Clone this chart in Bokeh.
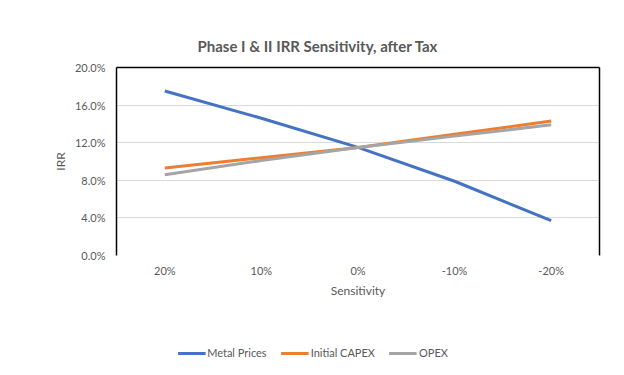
from bokeh.plotting import figure
from bokeh.layouts import column
from bokeh.models import (FactorRange, Range1d, NumeralTickFormatter, SingleIntervalTicker,
                          FixedTicker, LinearAxis, CategoricalAxis, Legend, LegendItem)
from bokeh.embed import file_html
from bokeh.resources import INLINE

categories = ["20%", "10%", "0%", "-10%", "-20%"]
metal_prices = [0.175, 0.146, 0.115, 0.079, 0.037]
initial_capex = [0.093, 0.104, 0.115, 0.129, 0.143]
opex = [0.086, 0.101, 0.115, 0.127, 0.139]
names = ["Metal Prices", "Initial CAPEX", "OPEX"]

FONT = "Lato"
TXT = "#595959"
colors = ["#4472C4", "#ED7D31", "#A5A5A5"]
series = [metal_prices, initial_capex, opex]

p = figure(width=624, height=330, output_backend="svg", toolbar_location=None,
           x_range=FactorRange(*categories, range_padding=0), y_range=Range1d(0, 0.20),
           min_border_left=116, min_border_right=25, min_border_top=67, min_border_bottom=75)

p.title.text = "Phase I & II IRR Sensitivity, after Tax"
p.title.text_font = FONT
p.title.text_font_size = "15px"
p.title.text_font_style = "bold"
p.title.text_color = TXT
p.title.align = "left"
p.title.offset = 81
p.title.standoff = 25

p.outline_line_color = None
p.xgrid.grid_line_color = None
p.ygrid.grid_line_color = "#d9d9d9"
p.ygrid.grid_line_width = 1
p.ygrid.ticker = SingleIntervalTicker(interval=0.04)

for s, c in zip(series, colors):
    p.line(categories, s, line_color=c, line_width=3)

ya = p.yaxis[0]
ya.ticker = SingleIntervalTicker(interval=0.04)
ya.formatter = NumeralTickFormatter(format="0.0%")
ya.axis_line_color = "black"
ya.axis_line_width = 1.5
ya.major_tick_line_color = None
ya.minor_tick_line_color = None
ya.major_tick_out = 0
ya.minor_tick_out = 0
ya.major_label_text_font = FONT
ya.major_label_text_font_size = "11px"
ya.major_label_text_color = TXT
ya.major_label_standoff = 11
ya.axis_label = "IRR"
ya.axis_label_text_font = FONT
ya.axis_label_text_font_size = "12px"
ya.axis_label_text_font_style = "normal"
ya.axis_label_text_color = TXT
ya.axis_label_standoff = 4

xa = p.xaxis[0]
xa.axis_line_color = None
xa.major_tick_line_color = None
xa.minor_tick_line_color = None
xa.major_tick_out = 0
xa.minor_tick_out = 0
xa.major_label_text_font = FONT
xa.major_label_text_font_size = "11px"
xa.major_label_text_color = TXT
xa.major_label_standoff = 8
xa.axis_label = "Sensitivity"
xa.axis_label_text_font = FONT
xa.axis_label_text_font_size = "12px"
xa.axis_label_text_font_style = "normal"
xa.axis_label_text_color = TXT
xa.axis_label_standoff = 3

top = CategoricalAxis(axis_line_color="black", axis_line_width=1.5,
                      major_tick_line_color=None, minor_tick_line_color=None,
                      major_tick_out=0, minor_tick_out=0,
                      major_label_text_color=None, major_label_text_font_size="1px",
                      major_label_standoff=0)
right = LinearAxis(ticker=FixedTicker(ticks=[]),
                   axis_line_color="black", axis_line_width=1.5,
                   major_tick_line_color=None, minor_tick_line_color=None,
                   major_tick_out=0, minor_tick_out=0)
p.add_layout(top, "above")
p.add_layout(right, "right")

# legend strip: same series drawn outside its visible range, only the legend shows
lg = figure(width=534, height=45, output_backend="svg", toolbar_location=None,
            x_range=FactorRange(*categories), y_range=Range1d(1, 2),
            x_axis_type=None, y_axis_type=None, min_border=0)
lg.outline_line_color = None
lg.grid.grid_line_color = None
lg_renderers = [lg.line(categories, s, line_color=c, line_width=3) for s, c in zip(series, colors)]
legend = Legend(items=[LegendItem(label=n, renderers=[r]) for n, r in zip(names, lg_renderers)],
                orientation="horizontal", location="center",
                label_text_font=FONT, label_text_font_size="11px", label_text_color=TXT,
                glyph_width=28, label_standoff=2, spacing=14,
                border_line_color=None, background_fill_alpha=0, margin=0, padding=4)
lg.add_layout(legend, "center")

layout = column(p, lg, spacing=0)
open("out.html", "w").write(file_html(layout, INLINE))
